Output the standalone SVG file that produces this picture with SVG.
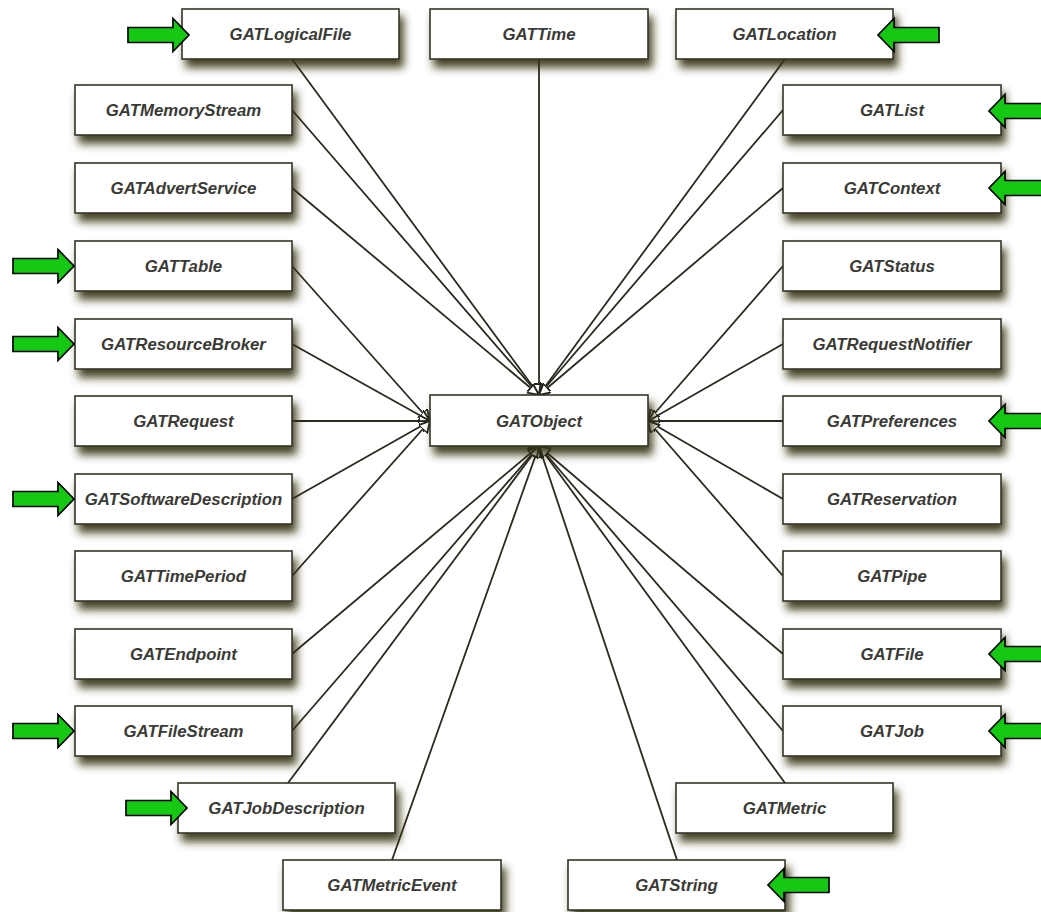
<svg xmlns="http://www.w3.org/2000/svg" width="1041" height="912" viewBox="0 0 1041 912">
<style>
.box{fill:#fff;stroke:#333328;stroke-width:1.6;filter:url(#sh)}
.lbl{font-family:"Liberation Sans",Arial,sans-serif;font-size:16.8px;font-weight:bold;font-style:italic;fill:#3a3a36;text-anchor:middle}
.c{stroke:#2a2a1e;stroke-width:1.8;fill:none;marker-end:url(#gen)}
.ga{fill:#14c814;stroke:#000;stroke-width:1.7;stroke-linejoin:miter}
</style>
<defs>
<filter id="sh" x="-10%" y="-20%" width="130%" height="180%">
<feDropShadow dx="4" dy="8" stdDeviation="4.5" flood-color="#35310f" flood-opacity="0.9"/>
</filter>
<marker id="gen" markerUnits="userSpaceOnUse" markerWidth="14" markerHeight="14" refX="11" refY="6" orient="auto">
<path d="M0,0 L11,6 L0,12 Z" fill="#fff" stroke="#22221a" stroke-width="1.8"/>
</marker>
<path id="garrow" d="M-61,-7.5 H-16 V-16.5 L0,0 L-16,16.5 V7.5 H-61 Z"/>
</defs>
<rect width="1041" height="912" fill="#fff"/>

<g id="connectors">
<line class="c" x1="292" y1="59" x2="539" y2="395"/>
<line class="c" x1="292" y1="110" x2="539" y2="395"/>
<line class="c" x1="292" y1="188" x2="539" y2="395"/>
<line class="c" x1="539" y1="59" x2="539" y2="395"/>
<line class="c" x1="785" y1="59" x2="539" y2="395"/>
<line class="c" x1="783" y1="110" x2="539" y2="395"/>
<line class="c" x1="783" y1="188" x2="539" y2="395"/>
<line class="c" x1="292" y1="266" x2="430" y2="421"/>
<line class="c" x1="292" y1="344" x2="430" y2="421"/>
<line class="c" x1="292" y1="421" x2="430" y2="421"/>
<line class="c" x1="292" y1="499" x2="430" y2="421"/>
<line class="c" x1="292" y1="576" x2="430" y2="421"/>
<line class="c" x1="783" y1="266" x2="648" y2="421"/>
<line class="c" x1="783" y1="344" x2="648" y2="421"/>
<line class="c" x1="783" y1="421" x2="648" y2="421"/>
<line class="c" x1="783" y1="499" x2="648" y2="421"/>
<line class="c" x1="783" y1="576" x2="648" y2="421"/>
<line class="c" x1="292" y1="654" x2="539" y2="446"/>
<line class="c" x1="292" y1="731" x2="539" y2="446"/>
<line class="c" x1="288" y1="783" x2="539" y2="446"/>
<line class="c" x1="392" y1="860" x2="539" y2="446"/>
<line class="c" x1="677" y1="860" x2="539" y2="446"/>
<line class="c" x1="785" y1="783" x2="539" y2="446"/>
<line class="c" x1="783" y1="731" x2="539" y2="446"/>
<line class="c" x1="783" y1="654" x2="539" y2="446"/>
</g>

<g id="GATObject"><rect class="box" x="430" y="395" width="218" height="51"/><text class="lbl" x="539" y="427">GATObject</text></g>
<g id="GATLogicalFile"><rect class="box" x="182" y="9" width="217" height="50"/><text class="lbl" x="290.5" y="40">GATLogicalFile</text></g>
<g id="GATTime"><rect class="box" x="430" y="9" width="218" height="50"/><text class="lbl" x="539" y="40">GATTime</text></g>
<g id="GATLocation"><rect class="box" x="676" y="9" width="217" height="50"/><text class="lbl" x="784.5" y="40">GATLocation</text></g>

<g id="GATMemoryStream"><rect class="box" x="75" y="85" width="217" height="50"/><text class="lbl" x="183.5" y="116">GATMemoryStream</text></g>
<g id="GATAdvertService"><rect class="box" x="75" y="163" width="217" height="50"/><text class="lbl" x="183.5" y="194">GATAdvertService</text></g>
<g id="GATTable"><rect class="box" x="75" y="241" width="217" height="50"/><text class="lbl" x="183.5" y="272">GATTable</text></g>
<g id="GATResourceBroker"><rect class="box" x="75" y="319" width="217" height="50"/><text class="lbl" x="183.5" y="350">GATResourceBroker</text></g>
<g id="GATRequest"><rect class="box" x="75" y="396" width="217" height="50"/><text class="lbl" x="183.5" y="427">GATRequest</text></g>
<g id="GATSoftwareDescription"><rect class="box" x="75" y="474" width="217" height="50"/><text class="lbl" x="183.5" y="505">GATSoftwareDescription</text></g>
<g id="GATTimePeriod"><rect class="box" x="75" y="551" width="217" height="50"/><text class="lbl" x="183.5" y="582">GATTimePeriod</text></g>
<g id="GATEndpoint"><rect class="box" x="75" y="629" width="217" height="50"/><text class="lbl" x="183.5" y="660">GATEndpoint</text></g>
<g id="GATFileStream"><rect class="box" x="75" y="706" width="217" height="50"/><text class="lbl" x="183.5" y="737">GATFileStream</text></g>
<g id="GATJobDescription"><rect class="box" x="178" y="783" width="217" height="50"/><text class="lbl" x="286.5" y="814">GATJobDescription</text></g>
<g id="GATMetricEvent"><rect class="box" x="283" y="860" width="218" height="50"/><text class="lbl" x="392" y="891">GATMetricEvent</text></g>

<g id="GATList"><rect class="box" x="783" y="85" width="218" height="50"/><text class="lbl" x="892" y="116">GATList</text></g>
<g id="GATContext"><rect class="box" x="783" y="163" width="218" height="50"/><text class="lbl" x="892" y="194">GATContext</text></g>
<g id="GATStatus"><rect class="box" x="783" y="241" width="218" height="50"/><text class="lbl" x="892" y="272">GATStatus</text></g>
<g id="GATRequestNotifier"><rect class="box" x="783" y="319" width="218" height="50"/><text class="lbl" x="892" y="350">GATRequestNotifier</text></g>
<g id="GATPreferences"><rect class="box" x="783" y="396" width="218" height="50"/><text class="lbl" x="892" y="427">GATPreferences</text></g>
<g id="GATReservation"><rect class="box" x="783" y="474" width="218" height="50"/><text class="lbl" x="892" y="505">GATReservation</text></g>
<g id="GATPipe"><rect class="box" x="783" y="551" width="218" height="50"/><text class="lbl" x="892" y="582">GATPipe</text></g>
<g id="GATFile"><rect class="box" x="783" y="629" width="218" height="50"/><text class="lbl" x="892" y="660">GATFile</text></g>
<g id="GATJob"><rect class="box" x="783" y="706" width="218" height="50"/><text class="lbl" x="892" y="737">GATJob</text></g>
<g id="GATMetric"><rect class="box" x="676" y="783" width="217" height="50"/><text class="lbl" x="784.5" y="814">GATMetric</text></g>
<g id="GATString"><rect class="box" x="568" y="860" width="217" height="50"/><text class="lbl" x="676.5" y="891">GATString</text></g>

<g id="markers">
<use href="#garrow" class="ga" transform="translate(189,35)"/>
<use href="#garrow" class="ga" transform="translate(74,266)"/>
<use href="#garrow" class="ga" transform="translate(74,344)"/>
<use href="#garrow" class="ga" transform="translate(74,499)"/>
<use href="#garrow" class="ga" transform="translate(74,731)"/>
<use href="#garrow" class="ga" transform="translate(187,808)"/>
<use href="#garrow" class="ga" transform="translate(878,35) scale(-1,1)"/>
<use href="#garrow" class="ga" transform="translate(989,111) scale(-1,1)"/>
<use href="#garrow" class="ga" transform="translate(989,188) scale(-1,1)"/>
<use href="#garrow" class="ga" transform="translate(989,421) scale(-1,1)"/>
<use href="#garrow" class="ga" transform="translate(989,654) scale(-1,1)"/>
<use href="#garrow" class="ga" transform="translate(989,731) scale(-1,1)"/>
<use href="#garrow" class="ga" transform="translate(768,885) scale(-1,1)"/>
</g>
</svg>
